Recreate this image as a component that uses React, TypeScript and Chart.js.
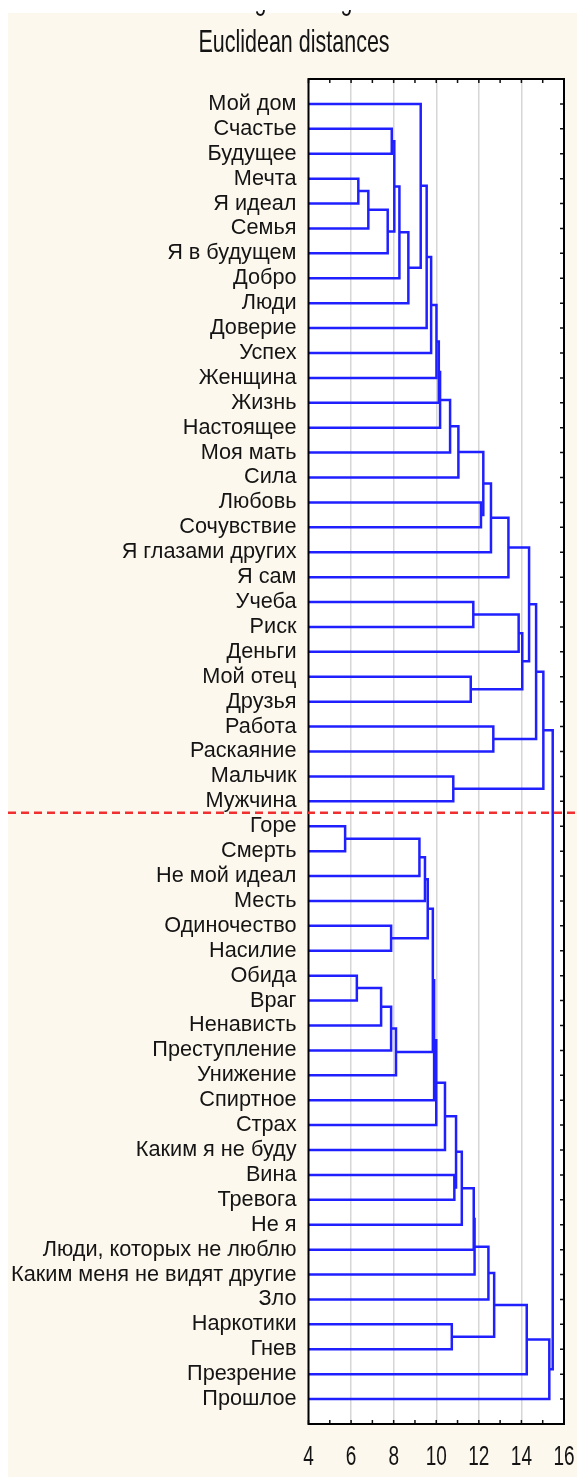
import { useEffect, useRef } from "react";
import { Chart, registerables } from "chart.js";

Chart.register(...registerables);

// ---------- data ----------
const leafLabels: string[] = [
  "Мой дом", "Счастье", "Будущее", "Мечта", "Я идеал", "Семья", "Я в будущем",
  "Добро", "Люди", "Доверие", "Успех", "Женщина", "Жизнь", "Настоящее",
  "Моя мать", "Сила", "Любовь", "Сочувствие", "Я глазами других", "Я сам",
  "Учеба", "Риск", "Деньги", "Мой отец", "Друзья", "Работа", "Раскаяние",
  "Мальчик", "Мужчина", "Горе", "Смерть", "Не мой идеал", "Месть",
  "Одиночество", "Насилие", "Обида", "Враг", "Ненависть", "Преступление",
  "Унижение", "Спиртное", "Страх", "Каким я не буду", "Вина", "Тревога",
  "Не я", "Люди, которых не люблю", "Каким меня не видят другие", "Зло",
  "Наркотики", "Гнев", "Презрение", "Прошлое",
];

// each merge joins two nodes (leaf name or "m<k>" = result of merge k)
const mergePairs: [string, string][] = [
  ["Счастье", "Будущее"],            // m0
  ["Мечта", "Я идеал"],              // m1
  ["m1", "Семья"],                   // m2
  ["m2", "Я в будущем"],             // m3
  ["m0", "m3"],                      // m4
  ["m4", "Добро"],                   // m5
  ["m5", "Люди"],                    // m6
  ["Мой дом", "m6"],                 // m7
  ["m7", "Доверие"],                 // m8
  ["m8", "Успех"],                   // m9
  ["m9", "Женщина"],                 // m10
  ["m10", "Жизнь"],                  // m11
  ["m11", "Настоящее"],              // m12
  ["m12", "Моя мать"],               // m13
  ["m13", "Сила"],                   // m14
  ["Любовь", "Сочувствие"],          // m15
  ["m14", "m15"],                    // m16
  ["m16", "Я глазами других"],       // m17
  ["m17", "Я сам"],                  // m18
  ["Учеба", "Риск"],                 // m19
  ["m19", "Деньги"],                 // m20
  ["Мой отец", "Друзья"],            // m21
  ["m20", "m21"],                    // m22
  ["m18", "m22"],                    // m23
  ["Работа", "Раскаяние"],           // m24
  ["m23", "m24"],                    // m25
  ["Мальчик", "Мужчина"],            // m26
  ["m25", "m26"],                    // m27
  ["Горе", "Смерть"],                // m28
  ["m28", "Не мой идеал"],           // m29
  ["m29", "Месть"],                  // m30
  ["Одиночество", "Насилие"],        // m31
  ["m30", "m31"],                    // m32
  ["Обида", "Враг"],                 // m33
  ["m33", "Ненависть"],              // m34
  ["m34", "Преступление"],           // m35
  ["m35", "Унижение"],               // m36
  ["m32", "m36"],                    // m37
  ["m37", "Спиртное"],               // m38
  ["m38", "Страх"],                  // m39
  ["m39", "Каким я не буду"],        // m40
  ["Вина", "Тревога"],               // m41
  ["m40", "m41"],                    // m42
  ["m42", "Не я"],                   // m43
  ["m43", "Люди, которых не люблю"], // m44
  ["m44", "Каким меня не видят другие"], // m45
  ["m45", "Зло"],                    // m46
  ["Наркотики", "Гнев"],             // m47
  ["m46", "m47"],                    // m48
  ["m48", "Презрение"],              // m49
  ["m49", "Прошлое"],                // m50
  ["m27", "m50"],                    // m51
];

const mergeHeights: number[] = [
  7.91, 6.34, 6.81, 7.72, 8.03, 8.27, 8.69, 9.27, 9.55, 9.76,
  10.01, 10.12, 10.18, 10.65, 11.04, 12.1, 12.21, 12.57, 13.39, 11.74,
  13.87, 11.62, 14.04, 14.36, 12.68, 14.69, 10.8, 15.03, 5.72, 9.21,
  9.47, 7.88, 9.6, 6.27, 7.41, 7.88, 8.11, 9.84, 9.9, 10.0,
  10.41, 10.85, 10.93, 11.2, 11.76, 11.8, 12.45, 10.73, 12.72, 14.25,
  15.31, 15.47,
];

const xTickValues: number[] = [4, 6, 8, 10, 12, 14, 16];
const cutBetween: [string, string] = ["Мужчина", "Горе"];
const titleLines: string[] = ["Single Linkage", "Euclidean distances"];

// ---------- styling ----------
const X_MIN = 4;
const X_MAX = 16;
const FONT = "'Liberation Sans', Arial, sans-serif";
const CREAM = "#fdf8ee";
const BLUE = "rgb(32,32,255)";
const TEXT = "#141414";

function buildSegments() {
  const pos: Record<string, { x: number; y: number }> = {};
  leafLabels.forEach((l, i) => (pos[l] = { x: X_MIN, y: i }));
  return mergePairs.map(([a, b], k) => {
    const h = mergeHeights[k];
    const pa = pos[a];
    const pb = pos[b];
    pos["m" + k] = { x: h, y: (pa.y + pb.y) / 2 };
    return [
      { x: pa.x, y: pa.y },
      { x: h, y: pa.y },
      { x: h, y: pb.y },
      { x: pb.x, y: pb.y },
    ];
  });
}

const decorPlugin = {
  id: "decor",
  beforeDraw(chart: any) {
    const { ctx, width, height, chartArea: a } = chart;
    ctx.save();
    ctx.fillStyle = "#ffffff";
    ctx.fillRect(0, 0, width, height);
    ctx.fillStyle = CREAM;
    ctx.fillRect(8, 13, width - 8, height - 13);
    ctx.fillStyle = "#ffffff";
    ctx.fillRect(a.left, a.top, a.right - a.left, a.bottom - a.top);
    ctx.restore();
  },
  afterDraw(chart: any) {
    const { ctx, width, chartArea: a, scales } = chart;
    const xs = scales.x;
    const ys = scales.y;
    ctx.save();

    // inward minor ticks top/bottom and right
    ctx.strokeStyle = "#111";
    ctx.lineWidth = 1.5;
    ctx.beginPath();
    for (let v = X_MIN; v <= X_MAX; v++) {
      const px = xs.getPixelForValue(v);
      ctx.moveTo(px, a.top);
      ctx.lineTo(px, a.top + 4);
      ctx.moveTo(px, a.bottom);
      ctx.lineTo(px, a.bottom - 4);
    }
    leafLabels.forEach((_, i) => {
      const py = ys.getPixelForValue(i);
      ctx.moveTo(a.right, py);
      ctx.lineTo(a.right - 4, py);
    });
    ctx.stroke();

    // frame
    ctx.lineWidth = 2;
    ctx.strokeStyle = "#000";
    ctx.strokeRect(a.left, a.top, a.right - a.left, a.bottom - a.top);

    // red dashed cut line
    const cutY = ys.getPixelForValue(
      (leafLabels.indexOf(cutBetween[0]) + leafLabels.indexOf(cutBetween[1])) / 2
    ) - 1;
    ctx.strokeStyle = "#f03030";
    ctx.lineWidth = 2.5;
    ctx.setLineDash([8, 5]);
    ctx.beginPath();
    ctx.moveTo(8, cutY);
    ctx.lineTo(width, cutY);
    ctx.stroke();
    ctx.setLineDash([]);

    // x tick labels (tall)
    ctx.fillStyle = TEXT;
    ctx.textAlign = "center";
    ctx.textBaseline = "middle";
    ctx.font = `19px ${FONT}`;
    xTickValues.forEach((v) => {
      const px = xs.getPixelForValue(v);
      ctx.save();
      ctx.translate(px, a.bottom + 33);
      ctx.scale(1, 1.5);
      ctx.fillText(String(v), 0, 0);
      ctx.restore();
    });

    // titles
    ctx.textBaseline = "alphabetic";
    ctx.font = `21.5px ${FONT}`;
    ctx.save();
    ctx.beginPath();
    ctx.rect(0, 10, width, 12);
    ctx.clip();
    ctx.translate(294, 8.5);
    ctx.scale(1, 1.45);
    ctx.fillText(titleLines[0], 0, 0);
    ctx.restore();
    ctx.save();
    ctx.translate(294, 51.5);
    ctx.scale(1, 1.45);
    ctx.fillText(titleLines[1], 0, 0);
    ctx.restore();

    ctx.restore();
  },
};

export default function App() {
  const canvasRef = useRef<HTMLCanvasElement | null>(null);

  useEffect(() => {
    if (!canvasRef.current) return;
    const segments = buildSegments();
    const chart = new Chart(canvasRef.current, {
      type: "scatter",
      data: {
        datasets: segments.map((seg) => ({
          data: seg,
          showLine: true,
          borderColor: BLUE,
          borderWidth: 2.5,
          pointRadius: 0,
          fill: false,
          tension: 0,
        })),
      },
      options: {
        animation: false,
        responsive: false,
        events: [],
        layout: { padding: { top: 79, right: 13, left: 0, bottom: 0 } },
        plugins: {
          legend: { display: false },
          title: { display: false },
          tooltip: { enabled: false },
        },
        scales: {
          x: {
            type: "linear",
            min: X_MIN,
            max: X_MAX,
            ticks: { stepSize: 2, display: false },
            border: { display: false },
            grid: {
              drawTicks: false,
              lineWidth: 1.5,
              color: (c: any) =>
                c.tick && c.tick.value > X_MIN && c.tick.value < X_MAX
                  ? "#d6d6d6"
                  : "rgba(0,0,0,0)",
            },
            afterFit: (s: any) => {
              s.height = 53;
            },
          },
          y: {
            type: "linear",
            min: -1,
            max: leafLabels.length,
            reverse: true,
            border: { display: false },
            grid: { display: false, drawTicks: false },
            ticks: {
              stepSize: 1,
              autoSkip: false,
              padding: 12,
              color: TEXT,
              font: { family: FONT, size: 21.7 },
              callback: (v: any) => {
                const i = Number(v);
                return Number.isInteger(i) && i >= 0 && i < leafLabels.length
                  ? leafLabels[i]
                  : "";
              },
            },
            afterFit: (s: any) => {
              s.width = 308.5;
            },
          },
        },
      },
      plugins: [decorPlugin],
    });
    return () => chart.destroy();
  }, []);

  return (
    <div style={{ position: "absolute", left: 0, top: 0, width: 577, height: 1477 }}>
      <canvas ref={canvasRef} width={577} height={1477} style={{ display: "block" }} />
    </div>
  );
}
